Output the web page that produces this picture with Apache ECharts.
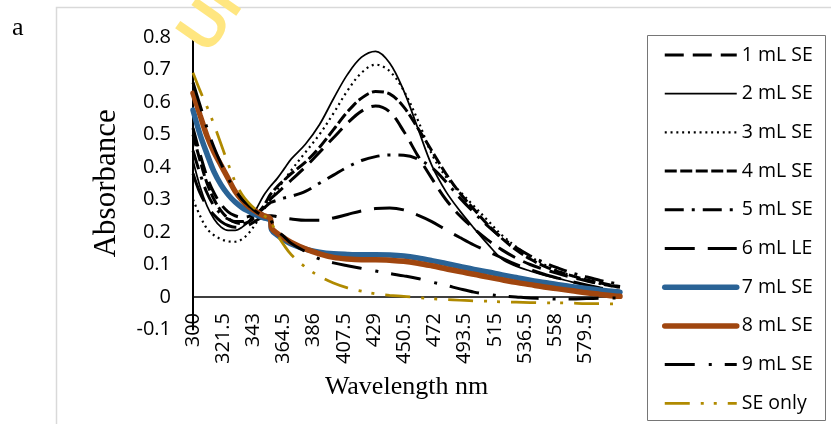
<!DOCTYPE html>
<html><head><meta charset="utf-8">
<script src="https://cdn.jsdelivr.net/npm/echarts@6/dist/echarts.min.js"></script>
<style>html,body{margin:0;padding:0;background:#fff}#c{width:831px;height:424px}</style>
</head><body><div id="c"></div>
<script>
const wavelengths = [300,305,310,315,320,325,330,335,340,345,350,355,356,360,365,370,380,390,400,410,420,430,440,450,460,470,480,490,500,510,520,530,540,550,560,570,580,590,600,604];
const xTickLabels = ['300','321.5','343','364.5','386','407.5','429','450.5','472','493.5','515','536.5','558','579.5'];
const seriesNames = ['1 mL SE','2 mL SE','3 mL SE','4 mL SE','5 mL SE','6 mL LE','7 mL SE','8 mL SE','9 mL SE','SE only'];

const mL1 = [0.52,0.44,0.37,0.32,0.285,0.262,0.25,0.245,0.248,0.258,0.275,0.30, 0.305, 0.32,0.34,0.36, 0.40,0.445,0.49,0.535,0.572,0.588,0.57,0.51,0.435,0.365,0.30,0.25,0.21,0.175,0.145,0.12,0.10,0.085,0.072,0.06,0.05,0.04,0.033, 0.03];
const mL2 = [0.42,0.34,0.28,0.24,0.215,0.205,0.205,0.215,0.235,0.27,0.31,0.34, 0.345, 0.365,0.395,0.425, 0.47,0.53,0.61,0.685,0.738,0.756,0.72,0.635,0.52,0.405,0.325,0.265,0.212,0.162,0.117,0.095,0.08,0.067,0.057,0.046,0.036,0.026,0.018, 0.016];
const mL3 = [0.30,0.25,0.21,0.19,0.178,0.171,0.17,0.178,0.198,0.228,0.265,0.30, 0.305, 0.33,0.36,0.39, 0.445,0.50,0.565,0.635,0.69,0.715,0.695,0.635,0.545,0.44,0.37,0.325,0.28,0.235,0.19,0.155,0.125,0.10,0.08,0.065,0.05,0.04,0.032, 0.03];
const mL4 = [0.50,0.42,0.35,0.30,0.265,0.242,0.23,0.226,0.232,0.25,0.278,0.315, 0.32, 0.34,0.36,0.38, 0.415,0.46,0.515,0.57,0.612,0.632,0.625,0.585,0.52,0.45,0.38,0.32,0.27,0.222,0.18,0.145,0.117,0.095,0.078,0.065,0.053,0.043,0.035, 0.032];
const mL5 = [0.45,0.38,0.32,0.28,0.255,0.24,0.232,0.232,0.24,0.255,0.272,0.29, 0.292, 0.298,0.305,0.31, 0.325,0.35,0.375,0.40,0.42,0.432,0.437,0.436,0.425,0.398,0.355,0.305,0.26,0.218,0.182,0.152,0.127,0.106,0.089,0.074,0.062,0.051,0.042, 0.04];
const mL6 = [0.38,0.32,0.28,0.252,0.232,0.22,0.215,0.215,0.222,0.235,0.247,0.25, 0.25, 0.247,0.243,0.24, 0.236,0.236,0.243,0.254,0.265,0.272,0.274,0.268,0.252,0.232,0.207,0.183,0.16,0.14,0.12,0.1,0.085,0.07,0.058,0.047,0.037,0.028,0.02, 0.018];
const mL7 = [0.575,0.50,0.44,0.385,0.345,0.315,0.292,0.275,0.263,0.252,0.244,0.236, 0.207, 0.19,0.175,0.163, 0.147,0.138,0.133,0.131,0.13,0.13,0.129,0.126,0.12,0.112,0.103,0.094,0.085,0.077,0.068,0.06,0.052,0.045,0.038,0.032,0.026,0.021,0.017, 0.015];
const mL8 = [0.627,0.56,0.495,0.445,0.405,0.365,0.325,0.297,0.277,0.263,0.251,0.241, 0.212, 0.196,0.181,0.168, 0.148,0.133,0.122,0.117,0.115,0.115,0.113,0.11,0.104,0.096,0.087,0.078,0.07,0.061,0.053,0.045,0.038,0.031,0.025,0.019,0.013,0.008,0.003, 0.002];
const mL9 = [0.66,0.59,0.52,0.46,0.41,0.365,0.33,0.30,0.28,0.262,0.25,0.24, 0.232, 0.205,0.185,0.165, 0.14,0.117,0.105,0.096,0.088,0.08,0.072,0.065,0.057,0.046,0.036,0.025,0.015,0.008,0.003,0.0,-0.003,-0.005,-0.006,-0.006,-0.005,-0.004,-0.003, -0.003];
const seOnly = [0.69,0.635,0.585,0.53,0.47,0.41,0.355,0.315,0.288,0.268,0.252,0.238, 0.228, 0.192,0.158,0.13, 0.092,0.064,0.043,0.028,0.018,0.01,0.005,0.002,-0.002,-0.005,-0.008,-0.01,-0.012,-0.013,-0.015,-0.016,-0.017,-0.018,-0.018,-0.019,-0.02,-0.02,-0.021, -0.021];

const seriesValues = [mL1, mL2, mL3, mL4, mL5, mL6, mL7, mL8, mL9, seOnly];

const lineStyles = [
  {color:'#000', width:3, type:[19,9]},
  {color:'#000', width:1.75, type:'solid'},
  {color:'#000', width:2.2, type:[2,3.8]},
  {color:'#000', width:3, type:[12,3.5]},
  {color:'#000', width:3, type:[19,8,3,8]},
  {color:'#000', width:3, type:[30,13]},
  {color:'#2a6396', width:5.5, type:'solid', cap:'round'},
  {color:'#a0460f', width:5.5, type:'solid', cap:'round'},
  {color:'#000', width:3, type:[30,14,3,13]},
  {color:'#b08a00', width:2.75, type:[25,11,3,10,3,11]}
];

const chart = echarts.init(document.getElementById('c'), null, {renderer:'canvas'});
chart.setOption({
  animation: false,
  backgroundColor: '#fff',
  grid: {left:193, right:211, top:37, bottom:94.5, outerBoundsMode:'none', containLabel:false},
  xAxis: {
    type:'value', min:300, max:604, interval:21.5,
    axisLine:{onZero:true, lineStyle:{color:'#000', width:1.5}},
    axisTick:{show:false}, splitLine:{show:false},
    axisLabel:{rotate:90, margin:-16.5, fontFamily:'Open Sans', fontSize:20, color:'#000',
      formatter:function(v){ const k = Math.round((v-300)/21.5); return (Math.abs(300+k*21.5-v)<0.01 && xTickLabels[k]) ? xTickLabels[k] : ''; }},
    name:'Wavelength nm', nameLocation:'middle', nameGap:44.5,
    nameTextStyle:{fontFamily:'Liberation Serif', fontSize:26, color:'#000', verticalAlign:'top'}
  },
  yAxis: {
    type:'value', min:-0.1, max:0.8, interval:0.1,
    axisLine:{show:true, onZero:false, lineStyle:{color:'#000', width:2}},
    axisTick:{show:false}, splitLine:{show:false},
    axisLabel:{margin:22, fontFamily:'Open Sans', fontSize:20, color:'#000'},
    name:'Absorbance', nameLocation:'middle', nameGap:71,
    nameTextStyle:{fontFamily:'Liberation Serif', fontSize:31, color:'#000'}
  },
  legend: {
    orient:'vertical', left:662, top:45, itemWidth:72, itemHeight:20, itemGap:18.7, padding:0,
    textStyle:{fontFamily:'Open Sans', fontSize:19.5, color:'#000', lineHeight:20},
    itemStyle:{opacity:0},
    lineStyle:{width:'inherit'},
    data: seriesNames
  },
  graphic: [
    {type:'rect', shape:{x:56.5, y:7.5, width:900, height:500}, style:{fill:null, stroke:'#d9d9d9', lineWidth:1.5}, z:-10, silent:true},
    {type:'rect', shape:{x:647.5, y:35.5, width:178, height:385}, style:{fill:null, stroke:'#767676', lineWidth:1}, silent:true},
    {type:'text', x:12, y:15, style:{text:'a', fontFamily:'Liberation Serif', fontSize:26, fill:'#000'}, silent:true},
    {type:'text', x:194, y:46, rotation:55*Math.PI/180, style:{text:'Uni', fontFamily:'Liberation Sans', fontWeight:'bold', fontSize:62, fill:'#ffe680', align:'left', verticalAlign:'middle'}, silent:true, z:10}
  ],
  series: seriesNames.map(function(n, i){
    return {
      name:n, type:'line', symbol:'none', showSymbol:false, smooth:0.35,
      data: wavelengths.map(function(w, j){ return [w, seriesValues[i][j]]; }),
      lineStyle: lineStyles[i], itemStyle:{color: lineStyles[i].color},
      emphasis:{disabled:true}
    };
  })
});
</script></body></html>
